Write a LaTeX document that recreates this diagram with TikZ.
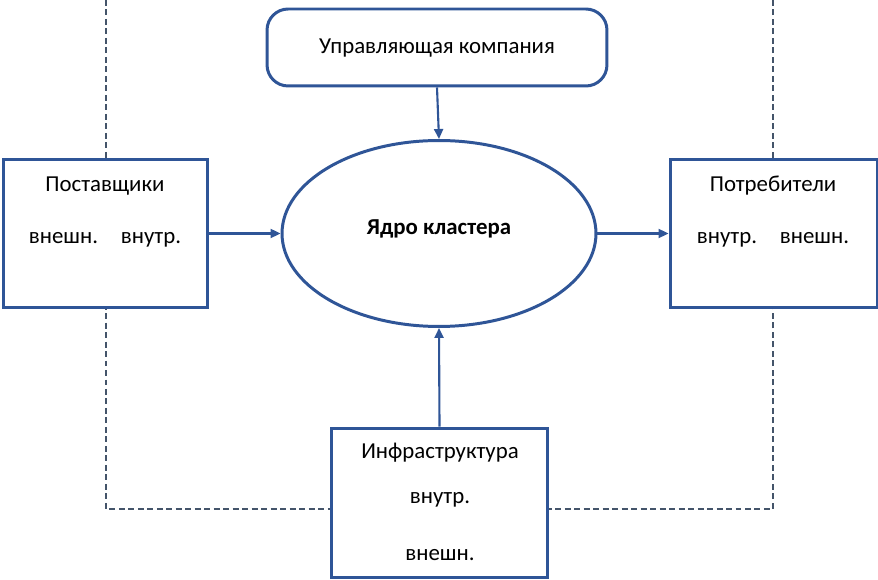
\documentclass[tikz,border=0pt]{standalone}
\usepackage{fontspec}
\setmainfont{Carlito}
\usetikzlibrary{arrows.meta,shapes.geometric}
\definecolor{boxblue}{HTML}{2F5597}
\definecolor{dashgrey}{HTML}{44546A}

\begin{document}
\begin{tikzpicture}[x=0.02cm, y=-0.02cm, every node/.style={font=\fontsize{13}{15}\selectfont}]
		\tikzstyle{unit} = [draw=boxblue, line width=1.7pt, fill=white, rectangle, inner sep=0pt]
		\tikzstyle{es} = [draw=boxblue, line width=1.2pt, -{Triangle[length=0.2cm, width=0.18cm]}]
		\tikzstyle{bound} = [draw=dashgrey, line width=0.65pt, dash pattern=on 3.4pt off 2pt]
		\useasboundingbox (0,0) rectangle (878,580);
		% cluster border
		\coordinate (b1) at (106,0);
		\coordinate (b2) at (106,509);
		\coordinate (b3) at (773,509);
		\coordinate (b4) at (773,0);
		\draw [bound] (b1) -- (b2) -- (b3) -- (b4);
		% blocks
		\node [unit, rounded corners=12pt, minimum width=6.8cm, minimum height=1.54cm] (uk) at (437,47.5) {};
		\node [unit, minimum width=4.1cm, minimum height=2.98cm] (sup) at (105.5,233.5) {};
		\node [unit, minimum width=4.14cm, minimum height=2.98cm] (cons) at (773.5,233.5) {};
		\node [unit, minimum width=4.34cm, minimum height=3cm] (infra) at (439.5,503) {};
		\node [unit, ellipse, minimum width=6.28cm, minimum height=3.72cm] (core) at (439,233.5) {};
		% texts
		\node (t1) at (437,48) {Управляющая компания};
		\node (t2) at (105,186) {Поставщики};
		\node (t3) at (105,240) {внешн.\quad внутр.};
		\node (t4) at (439,229) {\textbf{Ядро кластера}};
		\node (t5) at (773,186) {Потребители};
		\node (t6) at (773,240) {внутр.\quad внешн.};
		\node (t7) at (440,453) {Инфраструктура};
		\node (t8) at (440,500) {внутр.};
		\node (t9) at (440,555) {внешн.};
		% links
		\draw [es] (uk.south) -- (core.north);
		\draw [es] (sup.east) -- (core.west);
		\draw [es] (core.east) -- (cons.west);
		\draw [es] (infra.north) -- (core.south);
\end{tikzpicture}
\end{document}
